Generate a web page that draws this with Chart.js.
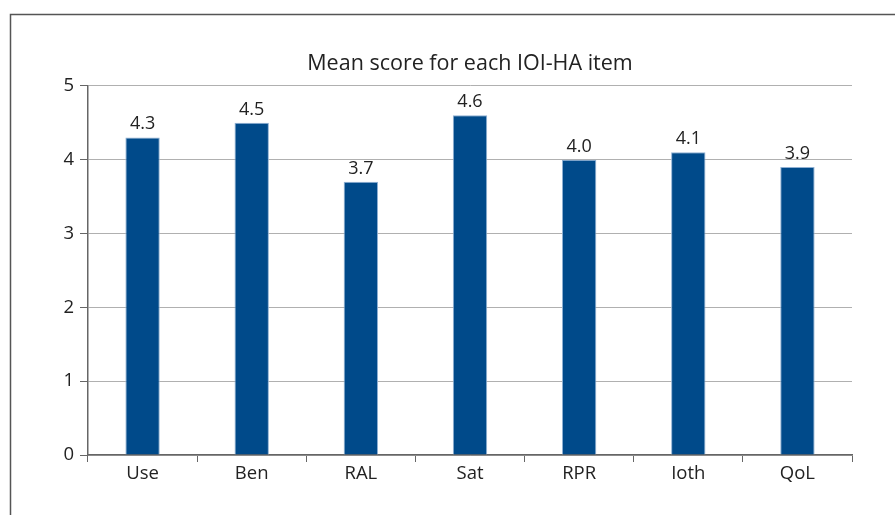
<!DOCTYPE html>
<html>
<head>
<meta charset="utf-8">
<script src="https://cdn.jsdelivr.net/npm/chart.js@4"></script>
<style>
html,body{margin:0;padding:0;background:#fff;}
#wrap{width:895px;height:515px;position:relative;}
</style>
</head>
<body>
<div id="wrap"><canvas id="c" width="895" height="515"></canvas></div>
<script>
const categories = ["Use", "Ben", "RAL", "Sat", "RPR", "Ioth", "QoL"];
const meanScores = [4.3, 4.5, 3.7, 4.6, 4.0, 4.1, 3.9];
const yTicks = [0, 1, 2, 3, 4, 5];
const titleText = "Mean score for each IOI-HA item";

const FONT = "'Open Sans', 'Noto Sans', sans-serif";

const frame = {
  id: 'frame',
  beforeDraw(chart) {
    const ctx = chart.ctx;
    ctx.save();
    ctx.strokeStyle = '#555';
    ctx.lineWidth = 1.5;
    ctx.strokeRect(10.5, 14.5, 900, 520);
    ctx.restore();
  }
};

const valueLabels = {
  id: 'valueLabels',
  afterDatasetsDraw(chart) {
    const ctx = chart.ctx;
    const meta = chart.getDatasetMeta(0);
    ctx.save();
    ctx.font = "18px " + FONT;
    ctx.fillStyle = '#222';
    ctx.textAlign = 'center';
    ctx.textBaseline = 'alphabetic';
    meta.data.forEach((bar, i) => {
      ctx.fillText(meanScores[i].toFixed(1), bar.x, bar.y - 8);
    });
    ctx.restore();
  }
};

new Chart(document.getElementById('c'), {
  type: 'bar',
  data: {
    labels: categories,
    datasets: [{
      data: meanScores,
      backgroundColor: '#004a8a',
      borderColor: '#8fb0d3',
      borderWidth: {left: 1, right: 1, top: 1, bottom: 0},
      barPercentage: 0.315,
      categoryPercentage: 1.0
    }]
  },
  options: {
    responsive: false,
    animation: false,
    devicePixelRatio: 1,
    layout: { padding: { left: 45, right: 0, top: 0, bottom: 0 } },
    plugins: {
      legend: { display: false },
      tooltip: { enabled: false },
      title: {
        display: true,
        text: titleText,
        color: '#222',
        font: { family: FONT, size: 21.5, weight: 'normal', lineHeight: 1.2 },
        padding: { top: 51, bottom: 9 }
      }
    },
    scales: {
      x: {
        grid: {
          display: true,
          drawOnChartArea: false,
          drawTicks: true,
          tickLength: 7,
          tickColor: '#666',
          offset: true
        },
        border: { display: true, color: '#666', width: 1.5 },
        ticks: { color: '#222', font: { family: FONT, size: 18.5 }, padding: 1 },
        afterFit(scale) { scale.height = 60; }
      },
      y: {
        min: 0,
        max: 5,
        afterBuildTicks(scale) { scale.ticks = yTicks.map(v => ({ value: v })); },
        grid: {
          color: '#b0b0b0',
          lineWidth: 1,
          drawTicks: true,
          tickLength: 8,
          tickColor: '#666'
        },
        border: { display: true, color: '#666', width: 1.5 },
        ticks: { color: '#222', font: { family: FONT, size: 18.5 }, padding: 6 },
        afterFit(scale) { scale.width = 43; }
      },
      yRight: {
        position: 'right',
        display: true,
        min: 0,
        max: 5,
        grid: { display: false, drawTicks: false },
        border: { display: false },
        ticks: { display: false },
        afterFit(scale) { scale.width = 43; }
      }
    }
  },
  plugins: [frame, valueLabels]
});
</script>
</body>
</html>
